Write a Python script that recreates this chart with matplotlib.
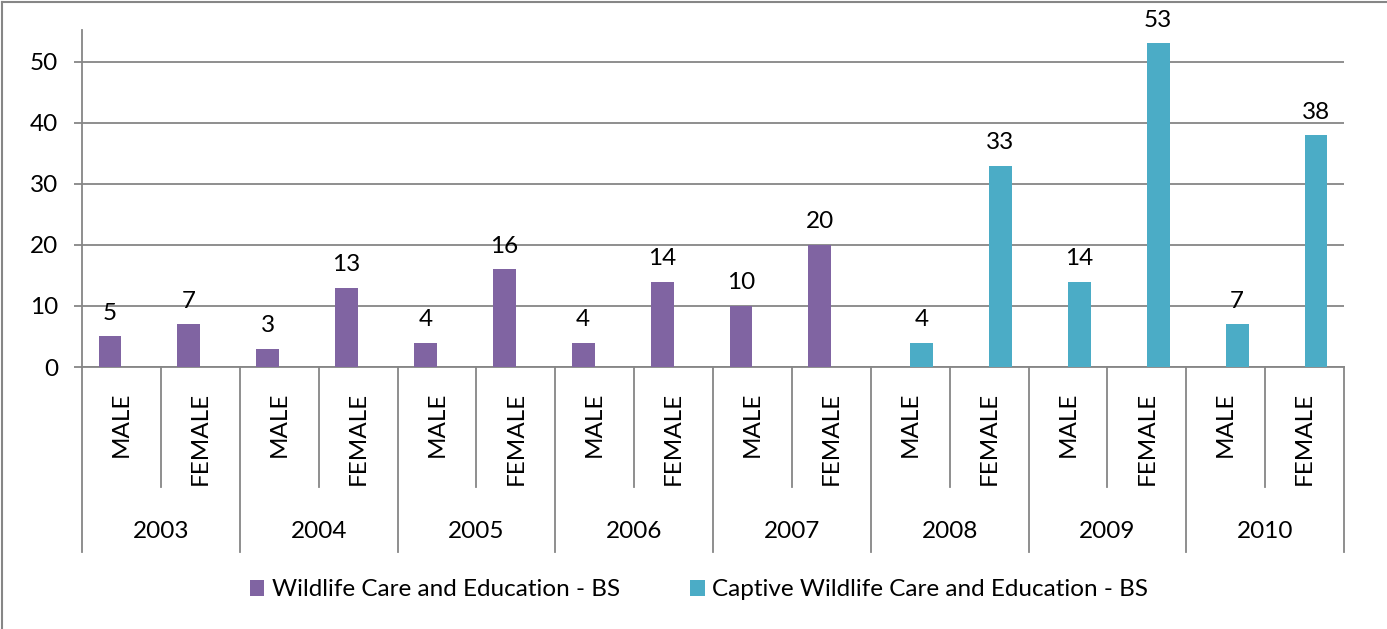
import matplotlib
matplotlib.use("Agg")
import matplotlib.pyplot as plt
from matplotlib.transforms import blended_transform_factory
from matplotlib.lines import Line2D

years = ["2003", "2004", "2005", "2006", "2007", "2008", "2009", "2010"]
sexes = ["MALE", "FEMALE"]
wildlife = [5, 7, 3, 13, 4, 16, 4, 14, 10, 20, None, None, None, None, None, None]
captive = [None] * 10 + [4, 33, 14, 53, 7, 38]
series_names = ["Wildlife Care and Education - BS",
                "Captive Wildlife Care and Education - BS"]

purple = "#8064A2"
teal = "#4BACC6"
grey = "#868686"

W, H = 1387, 629
FS = 17.5
plt.rcParams["font.family"] = ["Lato", "DejaVu Sans"]
plt.rcParams["font.size"] = FS

fig = plt.figure(figsize=(W / 100, H / 100), dpi=100)
ax = fig.add_axes([82 / W, 1 - 367 / H, (1344 - 82) / W, (367 - 30) / H])

n = len(wildlife)
bw = 0.29
handles = []
for vals, col, off in [(wildlife, purple, -bw / 2), (captive, teal, bw / 2)]:
    xs = [i + 0.5 + off for i, v in enumerate(vals) if v is not None]
    hs = [v for v in vals if v is not None]
    b = ax.bar(xs, hs, width=bw, color=col, zorder=3)
    handles.append(b)
    for x, h in zip(xs, hs):
        ax.annotate(str(h), (x, h), xytext=(0, 9), textcoords="offset points",
                    ha="center", va="bottom", fontsize=FS, color="black")

ax.set_xlim(0, n)
ax.set_ylim(0, 55.2)
ax.set_yticks(range(0, 51, 10))
ax.yaxis.grid(True, color=grey, lw=1.3, zorder=0)
ax.set_xticks([])
for s in ["top", "right"]:
    ax.spines[s].set_visible(False)
for s in ["left", "bottom"]:
    ax.spines[s].set_color(grey)
    ax.spines[s].set_linewidth(1.3)
ax.tick_params(axis="y", length=6, width=1.3, color=grey, pad=11, labelsize=FS)

# multi-level category axis
tr = blended_transform_factory(ax.transData, fig.transFigure)
def fy(py):
    return 1 - py / H

for i in range(n + 1):
    bottom = 552 if i % 2 == 0 else 487
    fig.add_artist(Line2D([i, i], [fy(367), fy(bottom)], transform=tr,
                          color=grey, lw=1.3))
for i in range(n):
    ax.text(i + 0.5, fy(392), sexes[i % 2], transform=tr, rotation=90,
            ha="center", va="top", fontsize=FS)
for j, yr in enumerate(years):
    ax.text(2 * j + 1, fy(532), yr, transform=tr, ha="center", va="center",
            fontsize=FS)

fig.legend(handles, series_names, loc="center", bbox_to_anchor=(0.504, fy(590)),
           ncol=2, frameon=False, fontsize=FS, handlelength=0.6, handleheight=0.6,
           handletextpad=0.3, columnspacing=2.9)

# outer chart border (left and top edges visible)
fig.add_artist(Line2D([2 / W, 2 / W], [0, fy(2)], transform=fig.transFigure,
                      color=grey, lw=1.5))
fig.add_artist(Line2D([2 / W, 1], [fy(2), fy(2)], transform=fig.transFigure,
                      color=grey, lw=1.5))

fig.savefig("out.png", dpi=100)
